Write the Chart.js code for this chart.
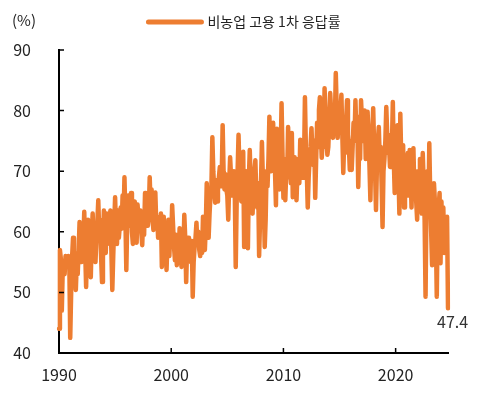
<!DOCTYPE html>
<html>
<head>
<meta charset="utf-8">
<title>비농업 고용 1차 응답률</title>
<script src="https://cdn.jsdelivr.net/npm/chart.js@4.4.1/dist/chart.umd.min.js"></script>
<style>
    html, body { margin: 0; padding: 0; background: #ffffff; }
    #wrap { width: 480px; height: 395px; }
</style>
</head>
<body>
<div id="wrap"><canvas id="responseChart" width="480" height="395"></canvas></div>
<script>

// --------------------------------------------
// Data (monthly)
// --------------------------------------------

const seriesName = "비농업 고용 1차 응답률";

const unitLabel = "(%)";

const firstYear = 1990;

const yTicks = [40, 50, 60, 70, 80, 90];

const xTickYears = [1990, 2000, 2010, 2020];

const y1990 = [44.0, 57.0, 55.5, 47.0, 54.0, 55.0, 53.0, 56.0, 55.0, 54.5, 56.0, 55.5];
const y1991 = [42.5, 50.0, 55.8, 59.0, 54.0, 56.5, 50.4, 55.0, 53.0, 57.0, 61.6, 56.0];
const y1992 = [55.0, 60.5, 58.0, 63.3, 57.0, 50.9, 58.5, 62.0, 56.5, 54.0, 52.5, 59.5];
const y1993 = [63.0, 58.0, 60.0, 55.0, 59.0, 61.5, 65.2, 60.0, 62.0, 56.0, 51.7, 58.0];
const y1994 = [63.5, 59.0, 56.5, 63.0, 58.0, 60.5, 62.0, 63.5, 57.0, 50.4, 56.0, 61.0];
const y1995 = [65.7, 60.0, 58.0, 63.5, 59.0, 61.0, 64.0, 60.5, 66.0, 62.0, 69.0, 62.5];
const y1996 = [53.7, 62.0, 66.0, 64.5, 61.0, 66.4, 60.0, 58.0, 63.5, 65.0, 60.5, 58.2];
const y1997 = [64.5, 62.0, 61.0, 63.5, 60.0, 57.8, 62.5, 59.5, 66.4, 63.0, 65.5, 61.0];
const y1998 = [63.0, 69.0, 64.0, 67.0, 62.0, 60.3, 63.5, 66.5, 61.5, 62.5, 59.0, 61.5];
const y1999 = [60.5, 63.0, 54.2, 59.0, 62.5, 57.0, 60.0, 53.7, 58.5, 62.0, 56.0, 60.0];
const y2000 = [58.5, 64.4, 61.0, 57.5, 55.3, 59.5, 54.5, 58.0, 56.0, 60.6, 57.0, 54.2];
const y2001 = [58.0, 56.5, 62.8, 59.0, 51.7, 57.5, 59.0, 55.5, 57.0, 55.0, 58.5, 49.3];
const y2002 = [55.0, 57.5, 59.0, 61.5, 58.0, 60.0, 57.0, 56.0, 59.5, 56.5, 62.5, 60.0];
const y2003 = [57.0, 61.0, 68.0, 64.0, 59.0, 63.0, 66.0, 67.5, 75.6, 70.0, 67.0, 64.8];
const y2004 = [68.5, 65.0, 67.0, 69.0, 70.7, 67.5, 69.0, 77.6, 70.0, 67.0, 69.5, 67.0];
const y2005 = [66.0, 62.0, 68.0, 72.3, 69.0, 66.0, 68.0, 70.0, 66.5, 54.2, 65.0, 70.0];
const y2006 = [76.0, 70.0, 68.0, 65.0, 70.0, 73.2, 57.5, 68.0, 70.0, 66.0, 57.3, 68.5];
const y2007 = [73.5, 68.0, 65.0, 63.0, 67.0, 70.0, 71.8, 66.0, 64.0, 68.0, 56.0, 62.0];
const y2008 = [68.0, 74.8, 69.0, 65.0, 57.5, 62.0, 70.0, 67.5, 72.0, 79.0, 73.0, 70.0];
const y2009 = [76.0, 78.0, 72.0, 70.0, 64.4, 77.0, 74.0, 68.0, 67.0, 72.0, 81.2, 73.0];
const y2010 = [65.6, 72.0, 65.2, 70.0, 69.0, 77.3, 73.0, 71.0, 68.0, 76.3, 65.7, 70.0];
const y2011 = [72.3, 68.0, 65.2, 70.0, 72.0, 68.0, 75.2, 72.0, 74.0, 68.9, 71.0, 82.2];
const y2012 = [74.0, 70.0, 64.0, 69.0, 72.0, 74.0, 77.1, 73.0, 71.0, 75.0, 65.6, 72.0];
const y2013 = [78.0, 74.0, 80.1, 82.2, 76.0, 72.2, 75.0, 74.0, 83.7, 79.0, 76.0, 72.7];
const y2014 = [74.0, 78.0, 82.9, 80.0, 77.0, 75.5, 79.0, 78.0, 86.2, 80.0, 75.5, 79.0];
const y2015 = [77.0, 80.0, 82.6, 76.0, 69.7, 75.0, 73.0, 78.0, 81.7, 76.0, 74.0, 70.2];
const y2016 = [75.0, 70.2, 74.0, 78.0, 75.0, 81.7, 76.0, 79.0, 67.4, 74.0, 72.0, 81.7];
const y2017 = [81.7, 75.0, 78.0, 80.0, 72.0, 74.0, 79.8, 76.0, 71.0, 65.2, 73.0, 76.0];
const y2018 = [80.4, 74.0, 70.0, 63.6, 71.0, 75.0, 77.3, 72.0, 74.0, 68.0, 60.8, 70.0];
const y2019 = [72.0, 75.0, 80.6, 76.0, 73.0, 74.0, 70.7, 76.0, 74.0, 81.4, 72.0, 66.4];
const y2020 = [69.0, 73.0, 77.6, 70.0, 63.0, 79.5, 72.0, 70.0, 74.3, 64.0, 68.0, 72.0];
const y2021 = [69.0, 73.0, 66.0, 73.5, 70.0, 64.0, 71.0, 73.8, 67.0, 70.0, 65.0, 62.0];
const y2022 = [70.0, 66.0, 72.0, 67.0, 63.0, 73.0, 68.0, 62.0, 49.3, 65.0, 70.0, 63.0];
const y2023 = [74.6, 66.0, 60.0, 54.5, 63.0, 68.0, 65.0, 60.0, 49.3, 62.0, 64.0, 66.4];
const y2024 = [54.8, 65.0, 57.0, 64.0, 56.5, 60.0, 58.0, 62.5, 47.4];

const yearlyRates = [
    y1990, y1991, y1992, y1993, y1994, y1995, y1996, y1997, y1998, y1999,
    y2000, y2001, y2002, y2003, y2004, y2005, y2006, y2007, y2008, y2009,
    y2010, y2011, y2012, y2013, y2014, y2015, y2016, y2017, y2018, y2019,
    y2020, y2021, y2022, y2023, y2024
];


// --------------------------------------------
// Flatten into month labels + values
// --------------------------------------------

const monthLabels = [];

const rates = [];

yearlyRates.forEach((months, k) => {

    months.forEach((value, m) => {

        monthLabels.push((firstYear + k) + "-" + String(m + 1).padStart(2, "0"));

        rates.push(value);

    });

});


// --------------------------------------------
// Style
// --------------------------------------------

const lineColor = "#ED7D31";

const textColor = "#222222";

const fontFamily = "'Noto Sans CJK KR', 'Noto Sans', sans-serif";


// --------------------------------------------
// Inward tick marks
// --------------------------------------------

const innerTicks = {

    id: "innerTicks",

    afterDraw(chart) {

        const ctx = chart.ctx;

        const xScale = chart.scales.x;

        const yScale = chart.scales.y;

        const len = 5;

        ctx.save();

        ctx.strokeStyle = "#000000";

        ctx.lineWidth = 1.5;

        ctx.beginPath();

        xScale.ticks.forEach((tick, i) => {

            if (tick.label === null || tick.label === undefined || tick.label === "") return;

            const px = xScale.getPixelForTick(i);

            ctx.moveTo(px, xScale.top);

            ctx.lineTo(px, xScale.top - len);

        });

        yScale.ticks.forEach((tick, i) => {

            const py = yScale.getPixelForTick(i);

            ctx.moveTo(yScale.right, py);

            ctx.lineTo(yScale.right + len, py);

        });

        ctx.stroke();

        ctx.restore();

    }

};


// --------------------------------------------
// Legend, unit and last-value label
// --------------------------------------------

const extraText = {

    id: "extraText",

    afterDraw(chart) {

        const ctx = chart.ctx;

        const area = chart.chartArea;

        ctx.save();

        // legend at the top
        ctx.font = "14px " + fontFamily;

        const textW = ctx.measureText(seriesName).width;

        const lineLen = 53;

        const gap = 6;

        const startX = (area.left + area.right) / 2 - (lineLen + gap + textW) / 2 - 9;

        const legendY = 22;

        ctx.strokeStyle = lineColor;

        ctx.lineWidth = 5;

        ctx.lineCap = "round";

        ctx.beginPath();

        ctx.moveTo(startX, legendY);

        ctx.lineTo(startX + lineLen, legendY);

        ctx.stroke();

        ctx.fillStyle = textColor;

        ctx.textAlign = "left";

        ctx.textBaseline = "middle";

        ctx.fillText(seriesName, startX + lineLen + gap, legendY);

        // unit label
        ctx.font = "15px " + fontFamily;

        ctx.fillText(unitLabel, 12, 20);

        // last value label
        const meta = chart.getDatasetMeta(0);

        const last = meta.data[meta.data.length - 1];

        ctx.font = "16px " + fontFamily;

        ctx.fillStyle = "#333333";

        ctx.fillText(rates[rates.length - 1].toFixed(1), last.x - 11, last.y + 14);

        ctx.restore();

    }

};


// --------------------------------------------
// Chart
// --------------------------------------------

new Chart(

    document.getElementById("responseChart"),

    {

        type: "line",

        data: {

            labels: monthLabels,

            datasets: [{

                label: seriesName,

                data: rates,

                borderColor: lineColor,

                backgroundColor: lineColor,

                borderWidth: 4.5,

                borderJoinStyle: "round",

                borderCapStyle: "round",

                pointRadius: 0,

                tension: 0

            }]

        },

        options: {

            responsive: false,

            animation: false,

            layout: {

                padding: { top: 50, right: 32, left: 0, bottom: 0 }

            },

            plugins: {

                legend: { display: false },

                tooltip: { enabled: false }

            },

            scales: {

                x: {

                    type: "category",

                    offset: false,

                    grid: { display: false },

                    border: { color: "#000000", width: 2 },

                    ticks: {

                        autoSkip: false,

                        maxRotation: 0,

                        padding: 4,

                        color: textColor,

                        font: { family: fontFamily, size: 16 },

                        callback: function (value, index) {

                            const label = monthLabels[index];

                            const year = Number(label.slice(0, 4));

                            if (label.endsWith("-01") && xTickYears.includes(year)) return String(year);

                            return null;

                        }

                    },

                    afterFit: function (scale) {

                        scale.height = 42;

                    }

                },

                y: {

                    min: yTicks[0],

                    max: yTicks[yTicks.length - 1],

                    grid: { display: false },

                    border: { color: "#000000", width: 2 },

                    ticks: {

                        stepSize: 10,

                        padding: 20,

                        color: textColor,

                        font: { family: fontFamily, size: 16 }

                    },

                    afterFit: function (scale) {

                        scale.width = 59;

                    }

                }

            }

        },

        plugins: [innerTicks, extraText]

    }

);

</script>
</body>
</html>
